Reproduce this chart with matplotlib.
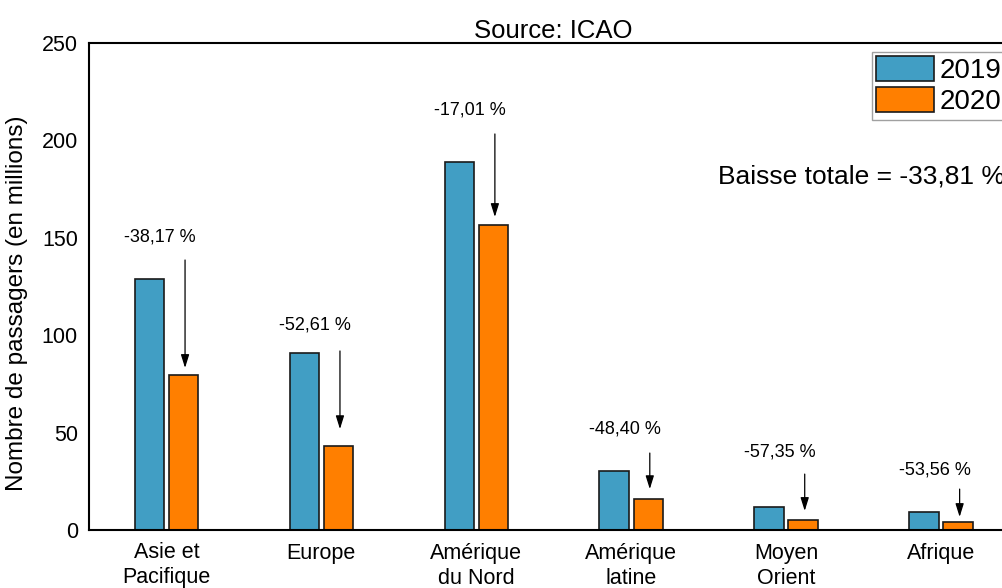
import matplotlib.pyplot as plt
import numpy as np

plt.rcParams['font.family'] = ['Liberation Sans', 'DejaVu Sans']

regions = ["Asie et\nPacifique", "Europe", "Amérique\ndu Nord",
           "Amérique\nlatine", "Moyen\nOrient", "Afrique"]
pax_2019 = [128.9, 90.9, 188.9, 30.3, 11.6, 9.4]
pax_2020 = [79.6, 43.1, 156.6, 15.7, 5.1, 4.3]
drops = ["-38,17 %", "-52,61 %", "-17,01 %", "-48,40 %", "-57,35 %", "-53,56 %"]

# where the percent labels and arrows sit (data units)
label_y = [150.4, 105.2, 215.6, 51.8, 40.0, 30.8]
arrow_top = [138.6, 91.9, 203.3, 39.5, 28.7, 21.0]
arrow_tip = [83.2, 51.8, 160.7, 21.0, 9.8, 6.7]

fig = plt.figure(figsize=(10.03, 5.88), dpi=100)
ax = fig.add_axes([89 / 1003, 58 / 588, (1018.5 - 89) / 1003, 487 / 588])

x = np.arange(len(regions))
w = 0.19
ax.bar(x - 0.11, pax_2019, w, color="#419ec4", edgecolor="#1a1a1a", lw=1.2, label="2019")
ax.bar(x + 0.11, pax_2020, w, color="#ff7f00", edgecolor="#1a1a1a", lw=1.2, label="2020")

for i in range(len(regions)):
    ax.text(x[i] - 0.04, label_y[i], drops[i], ha="center", va="center", fontsize=13)
    ax.annotate("", xy=(x[i] + 0.12, arrow_tip[i]), xytext=(x[i] + 0.12, arrow_top[i]),
                arrowprops=dict(arrowstyle="-|>,head_length=0.8,head_width=0.25",
                                color="black", lw=0.9, shrinkA=0, shrinkB=0))

ax.set_xlim(-0.5, 5.5)
ax.set_ylim(0, 250)
ax.set_yticks([0, 50, 100, 150, 200, 250])
ax.set_xticks(x)
ax.set_xticklabels(regions, linespacing=1.25)
ax.tick_params(length=0, labelsize=15.5)
ax.tick_params(axis="x", pad=9)
ax.tick_params(axis="y", pad=8)
for s in ax.spines.values():
    s.set_linewidth(1.5)

ax.set_ylabel("Nombre de passagers (en millions)", fontsize=17.5)
ax.yaxis.set_label_coords(-0.066, 0.466)
ax.set_title("Source: ICAO", fontsize=18.5, pad=3)

fig.text(1005 / 1003, 1 - 177 / 588, "Baisse totale = -33,81 %", ha="right", va="center", fontsize=19)

leg = ax.legend(loc="upper left", bbox_to_anchor=(872 / 1003, 1 - 52 / 588),
                bbox_transform=fig.transFigure, fontsize=20, frameon=True, fancybox=False,
                handlelength=2.1, handleheight=1.0, labelspacing=0.12, borderpad=0.15,
                handletextpad=0.2, borderaxespad=0)
leg.get_frame().set_edgecolor("#888888")
leg.get_frame().set_linewidth(1.0)

plt.savefig("out.png", dpi=100)
